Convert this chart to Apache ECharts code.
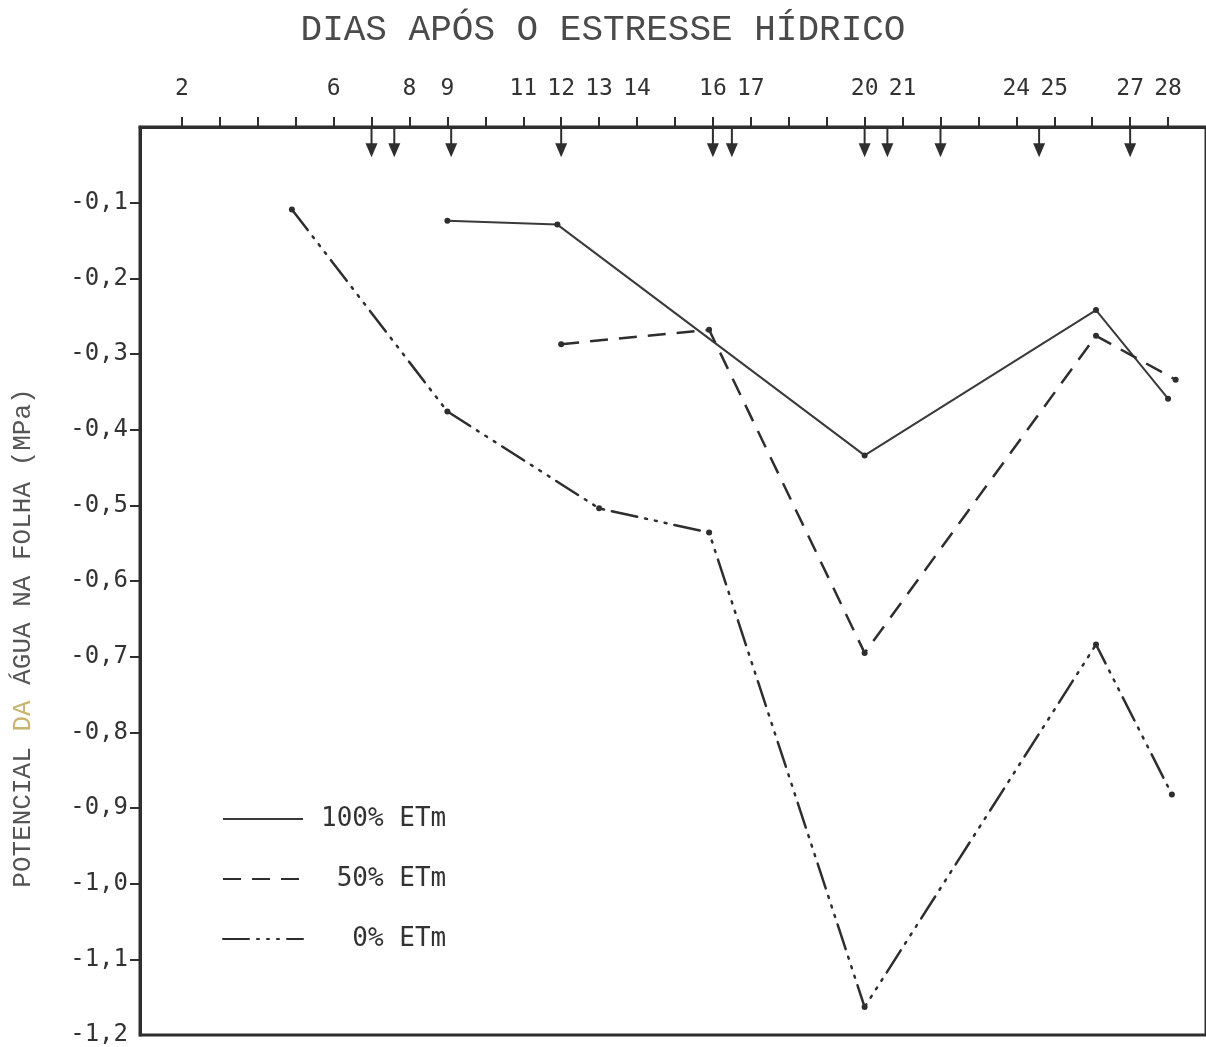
<!DOCTYPE html>
<html><head><meta charset="utf-8">
<script src="https://cdn.jsdelivr.net/npm/echarts@6/dist/echarts.min.js"></script>
<style>html,body{margin:0;padding:0;background:#fff}#c{width:1206px;height:1047px}</style>
</head><body><div id="c"></div>
<script>
// ---- data ----
const seriesNames = ['100% ETm', '50% ETm', '0% ETm'];
const days100 = [9, 11.9, 20, 26.1, 28];
const vals100 = [-0.124, -0.129, -0.434, -0.242, -0.359];
const days50 = [12, 15.9, 20, 26.1, 28.2];
const vals50 = [-0.287, -0.268, -0.695, -0.276, -0.334];
const days0 = [4.9, 9, 13, 15.9, 20, 26.1, 28.1];
const vals0 = [-0.109, -0.376, -0.504, -0.536, -1.163, -0.684, -0.882];
const irrigationDays = [7, 7.6, 9.1, 12, 16, 16.5, 20, 20.6, 22, 24.6, 27];
const xTickDays = [2,3,4,5,6,7,8,9,10,11,12,13,14,15,16,17,18,19,20,21,22,23,24,25,26,27,28];
const xLabelDays = [2, 6, 8, 9, 11, 12, 13, 14, 16, 17, 20, 21, 24, 25, 27, 28];
const yLabelValues = [-0.1, -0.2, -0.3, -0.4, -0.5, -0.6, -0.7, -0.8, -0.9, -1.0, -1.1, -1.2];
const yTickValues = [-0.1, -0.2, -0.3, -0.4, -0.5, -0.6, -0.7, -0.8, -0.9, -1.0, -1.1];
const xTitle = 'DIAS APÓS O ESTRESSE HÍDRICO';

const pair = (xs, ys) => xs.map((x, i) => [x, ys[i]]);
const ink = '#2e2e2e';
const mono = '"DejaVu Sans Mono", monospace';
const typew = '"Liberation Mono", "DejaVu Sans Mono", monospace';

const chart = echarts.init(document.getElementById('c'), null, {renderer: 'canvas'});
chart.setOption({
  backgroundColor: '#fff',
  animation: false,
  grid: {left: 140, right: -3, top: 127, bottom: 7, show: true, borderColor: ink, borderWidth: 3, backgroundColor: 'transparent'},
  xAxis: {
    type: 'value', position: 'top', min: 0.896, max: 29,
    axisLine: {show: true, lineStyle: {color: ink, width: 3}},
    axisTick: {show: true, inside: false, length: 10, customValues: xTickDays, lineStyle: {color: ink, width: 2}},
    axisLabel: {show: true, customValues: xLabelDays, margin: 26, color: '#333', fontFamily: mono, fontSize: 23},
    splitLine: {show: false}
  },
  yAxis: {
    type: 'value', min: -1.2, max: 0,
    axisLine: {show: true, lineStyle: {color: ink, width: 3}},
    axisTick: {show: true, inside: false, length: 10, customValues: yTickValues, lineStyle: {color: ink, width: 2}},
    axisLabel: {show: true, customValues: yLabelValues, margin: 12, color: '#333', fontFamily: mono, fontSize: 24,
      formatter: v => v.toFixed(1).replace('.', ',')},
    splitLine: {show: false}
  },
  legend: {
    orient: 'vertical', left: 222, top: 806, padding: 0, itemGap: 34, itemWidth: 80, itemHeight: 4,
    data: seriesNames,
    itemStyle: {opacity: 0},
    formatter: n => n.padStart(8, ' '),
    textStyle: {fontFamily: mono, fontSize: 26, color: '#333', padding: [0, 0, 0, 13]}
  },
  graphic: [
    {type: 'text', left: 'center', top: 12, style: {text: xTitle, font: '36px ' + typew, fill: '#4a4a4a'}},
    {type: 'text', x: 10, y: 638, rotation: Math.PI / 2,
      style: {
        text: '{a|POTENCIAL }{b|DA}{a| ÁGUA NA FOLHA (MPa)}',
        align: 'center', verticalAlign: 'top',
        rich: {
          a: {font: '26px ' + typew, fill: '#555'},
          b: {font: '26px ' + typew, fill: '#c8b46e'}
        }
      }}
  ],
  series: [
    {name: seriesNames[0], type: 'line', data: pair(days100, vals100),
      symbol: 'circle', symbolSize: 6, itemStyle: {color: ink},
      lineStyle: {color: '#3a3a3a', width: 2, type: 'solid'}},
    {name: seriesNames[1], type: 'line', data: pair(days50, vals50),
      symbol: 'circle', symbolSize: 6, itemStyle: {color: ink},
      lineStyle: {color: ink, width: 2.5, type: [18, 11]}},
    {name: seriesNames[2], type: 'line', data: pair(days0, vals0),
      symbol: 'circle', symbolSize: 6, itemStyle: {color: ink},
      lineStyle: {color: ink, width: 2.5, type: [26, 8, 2, 8, 2, 8, 2, 8], cap: 'round'}},
    {name: 'irrigação', type: 'custom', silent: true, z: 5,
      data: irrigationDays.map(d => [d]),
      encode: {x: 0},
      renderItem: (params, api) => {
        const d = api.value(0);
        const top = api.coord([d, 0]);
        const tip = api.coord([d, -0.04]);
        const hw = 6, hh = 14;
        return {type: 'group', children: [
          {type: 'line', shape: {x1: top[0], y1: top[1], x2: tip[0], y2: tip[1] - hh + 2},
            style: {stroke: ink, lineWidth: 2}},
          {type: 'polygon', shape: {points: [[tip[0] - hw, tip[1] - hh], [tip[0] + hw, tip[1] - hh], [tip[0], tip[1]]]},
            style: {fill: ink}}
        ]};
      }}
  ]
});
</script></body></html>
